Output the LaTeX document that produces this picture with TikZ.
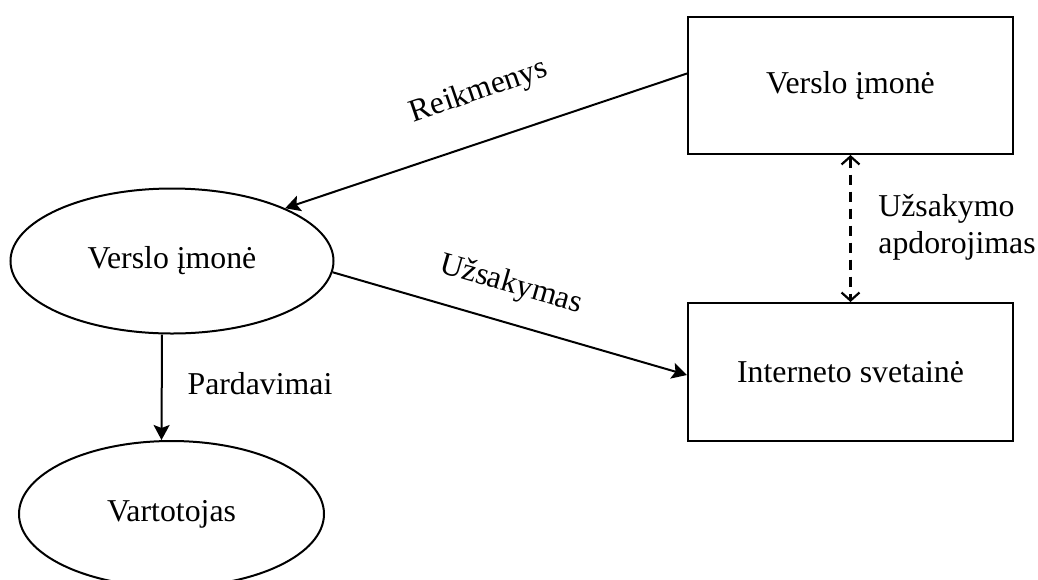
\documentclass[tikz,border=0pt]{standalone}
\usepackage{fontspec}
\setmainfont{Liberation Serif}
\usetikzlibrary{arrows.meta,shapes.geometric}
\begin{document}
\begin{tikzpicture}[x=0.5pt,y=0.5pt,
  every node/.style={font=\fontsize{15.9pt}{17.5pt}\selectfont},
  box/.style={draw, line width=1pt, rectangle, minimum width=162.5pt,
              minimum height=68.5pt, inner sep=0pt},
  oval/.style={draw, line width=1pt, ellipse, inner sep=0pt},
  flow/.style={line width=1pt, -{Stealth[length=7.5pt,width=8pt,inset=1.5pt]}},
  link/.style={line width=1.1pt, dash pattern=on 5pt off 3.5pt,
               {Straight Barb[length=4pt,width=9pt]}-{Straight Barb[length=4pt,width=9pt]}},
  tag/.style={inner sep=0pt},
]
\useasboundingbox (0,0) rectangle (1038,-579);

% actors and the web site
\node[box] (firm) at (850.5,-85.5) {Verslo įmonė};
\node[box, minimum height=69pt] (site) at (850.5,-372) {Interneto svetainė};
\node[oval, minimum width=161.5pt, minimum height=72.5pt] (biz) at (172,-261) {Verslo įmonė};
\node[oval, minimum width=152.5pt, minimum height=73pt] (cust) at (171.5,-514) {Vartotojas};

% flows
\draw[flow] ([yshift=6pt]firm.west) -- (biz.25);
\draw[flow] (biz.-4) -- ([yshift=-1.5pt]site.west);
\draw[flow] ([xshift=-5pt]biz.south) -- ([xshift=-5pt]cust.north);
\draw[link] (firm.south) -- (site.north);

% flow labels
\node[tag, rotate=19] (lblSupply) at (479,-92) {Reikmenys};
\node[tag, rotate=-16] (lblOrder) at (511,-285) {Užsakymas};
\node[tag, anchor=base] (lblSales) at (260,-394) {Pardavimai};
\node[tag, anchor=base west, align=left] (lblProc) at (878,-253) {Užsakymo\\[1pt]apdorojimas};
\end{tikzpicture}
\end{document}
